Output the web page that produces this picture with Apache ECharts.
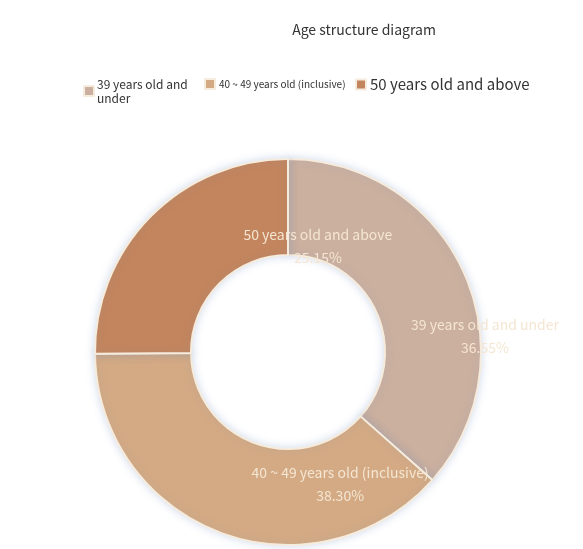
<!DOCTYPE html>
<html>
<head>
<meta charset="utf-8">
<script src="https://cdn.jsdelivr.net/npm/echarts@6/dist/echarts.min.js"></script>
<style>
  html, body { margin: 0; padding: 0; background: #ffffff; }
  #chart { width: 583px; height: 549px; }
</style>
</head>
<body>
<div id="chart"></div>
<script>
// Age groups and their shares (%)
const categories = ['39 years old and under', '40 ~ 49 years old (inclusive)', '50 years old and above'];
const shares = [36.55, 38.30, 25.15];
const colors = ['#cbb09f', '#d4aa84', '#c3855d'];

// Label nudges so each caption sits where it reads best on the ring
const labelShift = [[62, 45], [104, -6], [135, -2]];

const fontFamily = '"Noto Sans CJK SC", "Noto Sans", sans-serif';

const chart = echarts.init(document.getElementById('chart'), null, { renderer: 'canvas' });

const legendBase = {
  orient: 'horizontal',
  itemWidth: 10,
  itemHeight: 10,
  icon: 'rect',
  itemGap: 4,
  padding: 0,
  selectedMode: false
};

chart.setOption({
  backgroundColor: '#ffffff',
  color: colors,
  title: {
    text: 'Age structure diagram',
    left: 359,
    top: 18,
    textAlign: 'center',
    textStyle: { color: '#333333', fontSize: 14, fontWeight: 'normal', fontFamily: fontFamily }
  },
  legend: [
    Object.assign({}, legendBase, {
      data: [categories[0]],
      left: 83, top: 77,
      formatter: () => '39 years old and\nunder',
      textStyle: { fontSize: 12, lineHeight: 14, color: '#333', fontFamily: fontFamily, padding: [0, 0, 0, -2] }
    }),
    Object.assign({}, legendBase, {
      data: [categories[1]],
      left: 204, top: 78,
      textStyle: { fontSize: 10, color: '#333', fontFamily: fontFamily, padding: [0, 0, 10, -1] }
    }),
    Object.assign({}, legendBase, {
      data: [categories[2]],
      left: 355, top: 77,
      textStyle: { fontSize: 15, color: '#333', fontFamily: fontFamily, padding: [0, 0, 0, -1] }
    })
  ],
  series: [{
    type: 'pie',
    center: [288, 352],
    radius: [97, 193],
    startAngle: 90,
    clockwise: true,
    avoidLabelOverlap: false,
    itemStyle: {
      borderColor: '#f6ecdd',
      borderWidth: 2,
      shadowColor: 'rgba(110, 140, 190, 0.28)',
      shadowBlur: 8
    },
    label: {
      show: true,
      position: 'inside',
      formatter: p => p.name + '\n' + p.value.toFixed(2) + '%',
      color: '#f4e6d2',
      fontSize: 14,
      lineHeight: 23,
      fontFamily: fontFamily,
      textBorderWidth: 0
    },
    labelLine: { show: false },
    labelLayout: p => ({ dx: labelShift[p.dataIndex][0], dy: labelShift[p.dataIndex][1] }),
    emphasis: { disabled: true },
    data: categories.map((name, i) => ({ name: name, value: shares[i] }))
  }]
});
</script>
</body>
</html>
